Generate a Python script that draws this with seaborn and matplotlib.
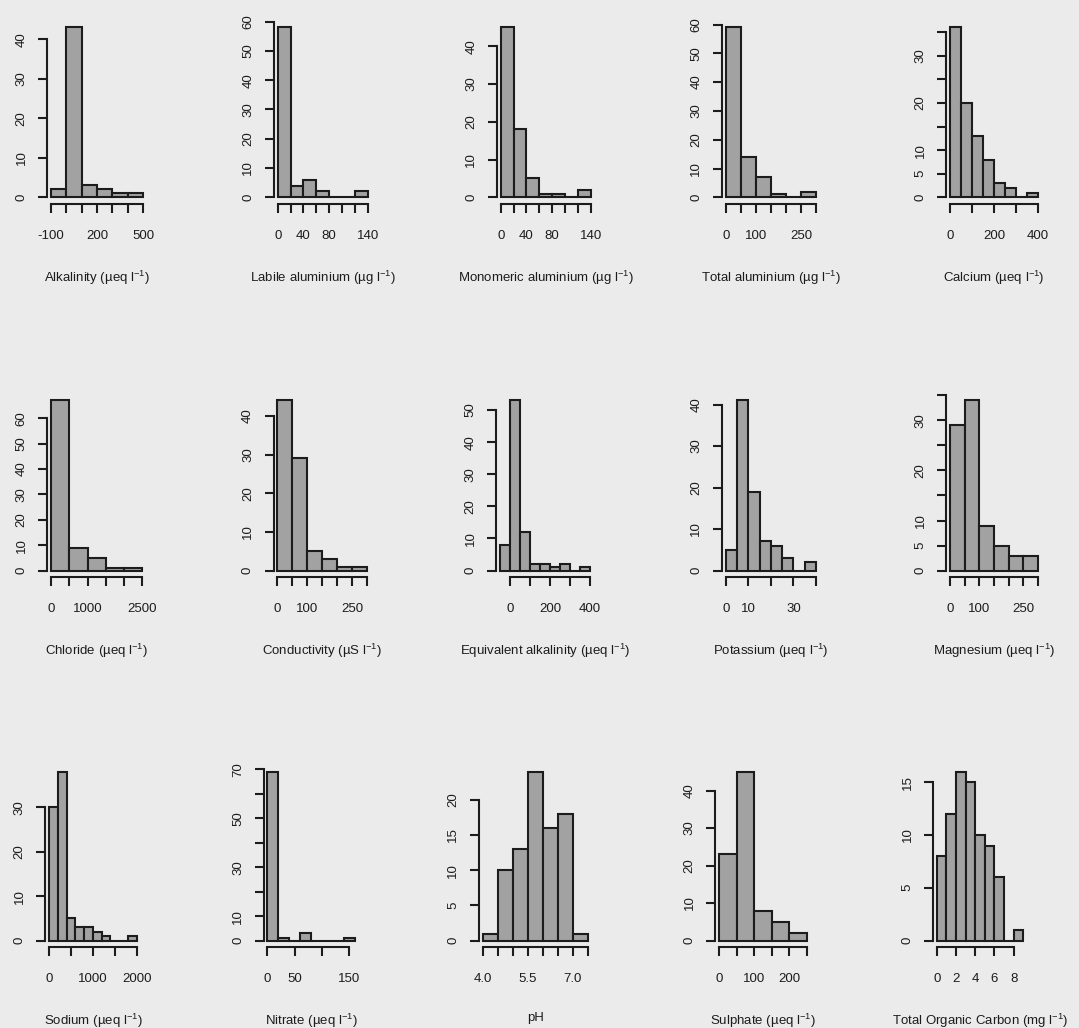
import matplotlib
matplotlib.use("Agg")
import matplotlib.pyplot as plt
import seaborn as sns

# ---- water chemistry histograms: bin edges and site counts per determinand ----
alkalinity_edges = [-100, 0, 100, 200, 300, 400, 500]
alkalinity_counts = [2, 43, 3, 2, 1, 1]

labile_al_edges = [0, 20, 40, 60, 80, 100, 120, 140]
labile_al_counts = [58, 4, 6, 2, 0, 0, 2]

monomeric_al_edges = [0, 20, 40, 60, 80, 100, 120, 140]
monomeric_al_counts = [45, 18, 5, 1, 1, 0, 2]

total_al_edges = [0, 50, 100, 150, 200, 250, 300]
total_al_counts = [59, 14, 7, 1, 0, 2]

calcium_edges = [0, 50, 100, 150, 200, 250, 300, 350, 400]
calcium_counts = [36, 20, 13, 8, 3, 2, 0, 1]

chloride_edges = [0, 500, 1000, 1500, 2000, 2500]
chloride_counts = [67, 9, 5, 1, 1]

conductivity_edges = [0, 50, 100, 150, 200, 250, 300]
conductivity_counts = [44, 29, 5, 3, 1, 1]

equiv_alk_edges = [-50, 0, 50, 100, 150, 200, 250, 300, 350, 400]
equiv_alk_counts = [8, 53, 12, 2, 2, 1, 2, 0, 1]

potassium_edges = [0, 5, 10, 15, 20, 25, 30, 35, 40]
potassium_counts = [5, 41, 19, 7, 6, 3, 0, 2]

magnesium_edges = [0, 50, 100, 150, 200, 250, 300]
magnesium_counts = [29, 34, 9, 5, 3, 3]

sodium_edges = [0, 200, 400, 600, 800, 1000, 1200, 1400, 1600, 1800, 2000]
sodium_counts = [30, 38, 5, 3, 3, 2, 1, 0, 0, 1]

nitrate_edges = [0, 20, 40, 60, 80, 100, 120, 140, 160]
nitrate_counts = [69, 1, 0, 3, 0, 0, 0, 1]

ph_edges = [4.0, 4.5, 5.0, 5.5, 6.0, 6.5, 7.0, 7.5]
ph_counts = [1, 10, 13, 24, 16, 18, 1]

sulphate_edges = [0, 50, 100, 150, 200, 250]
sulphate_counts = [23, 45, 8, 5, 2]

toc_edges = [0, 1, 2, 3, 4, 5, 6, 7, 8, 9]
toc_counts = [8, 12, 16, 15, 10, 9, 6, 0, 1]

# axis labels
titles = [
    "Alkalinity (µeq l$^{-1}$)", "Labile aluminium (µg l$^{-1}$)",
    "Monomeric aluminium (µg l$^{-1}$)", "Total aluminium (µg l$^{-1}$)",
    "Calcium (µeq l$^{-1}$)", "Chloride (µeq l$^{-1}$)",
    "Conductivity (µS l$^{-1}$)", "Equivalent alkalinity (µeq l$^{-1}$)",
    "Potassium (µeq l$^{-1}$)", "Magnesium (µeq l$^{-1}$)",
    "Sodium (µeq l$^{-1}$)", "Nitrate (µeq l$^{-1}$)", "pH",
    "Sulphate (µeq l$^{-1}$)", "Total Organic Carbon (mg l$^{-1}$)",
]

# x tick positions and labels (blank where labels would crowd)
x_ticks = [
    [-100, 0, 100, 200, 300, 400, 500],
    [0, 20, 40, 60, 80, 100, 120, 140],
    [0, 20, 40, 60, 80, 100, 120, 140],
    [0, 50, 100, 150, 200, 250, 300],
    [0, 100, 200, 300, 400],
    [0, 500, 1000, 1500, 2000, 2500],
    [0, 50, 100, 150, 200, 250, 300],
    [0, 100, 200, 300, 400],
    [0, 10, 20, 30, 40],
    [0, 50, 100, 150, 200, 250, 300],
    [0, 500, 1000, 1500, 2000],
    [0, 50, 100, 150],
    [4.0, 4.5, 5.0, 5.5, 6.0, 6.5, 7.0, 7.5],
    [0, 50, 100, 150, 200, 250],
    [0, 2, 4, 6, 8],
]
x_tick_labels = [
    ["-100", "", "", "200", "", "", "500"],
    ["0", "", "40", "", "80", "", "", "140"],
    ["0", "", "40", "", "80", "", "", "140"],
    ["0", "", "100", "", "", "250", ""],
    ["0", "", "200", "", "400"],
    ["0", "", "1000", "", "", "2500"],
    ["0", "", "100", "", "", "250", ""],
    ["0", "", "200", "", "400"],
    ["0", "10", "", "30", ""],
    ["0", "", "100", "", "", "250", ""],
    ["0", "", "1000", "", "2000"],
    ["0", "50", "", "150"],
    ["4.0", "", "", "5.5", "", "", "7.0", ""],
    ["0", "", "100", "", "200", ""],
    ["0", "2", "4", "6", "8"],
]

# y tick positions and labels
y_ticks = [
    [0, 10, 20, 30, 40],
    [0, 10, 20, 30, 40, 50, 60],
    [0, 10, 20, 30, 40],
    [0, 10, 20, 30, 40, 50, 60],
    [0, 5, 10, 15, 20, 25, 30, 35],
    [0, 10, 20, 30, 40, 50, 60],
    [0, 10, 20, 30, 40],
    [0, 10, 20, 30, 40, 50],
    [0, 10, 20, 30, 40],
    [0, 5, 10, 15, 20, 25, 30, 35],
    [0, 10, 20, 30],
    [0, 10, 20, 30, 40, 50, 60, 70],
    [0, 5, 10, 15, 20],
    [0, 10, 20, 30, 40],
    [0, 5, 10, 15],
]
y_tick_labels = [
    ["0", "10", "20", "30", "40"],
    ["0", "10", "20", "30", "40", "50", "60"],
    ["0", "10", "20", "30", "40"],
    ["0", "10", "20", "30", "40", "50", "60"],
    ["0", "5", "10", "", "20", "", "30", ""],
    ["0", "10", "20", "30", "40", "50", "60"],
    ["0", "10", "20", "30", "40"],
    ["0", "10", "20", "30", "40", "50"],
    ["0", "10", "20", "30", "40"],
    ["0", "5", "10", "", "20", "", "30", ""],
    ["0", "10", "20", "30"],
    ["0", "10", "", "30", "", "50", "", "70"],
    ["0", "5", "10", "15", "20"],
    ["0", "10", "20", "30", "40"],
    ["0", "5", "10", "15"],
]

edges_all = [alkalinity_edges, labile_al_edges, monomeric_al_edges, total_al_edges,
             calcium_edges, chloride_edges, conductivity_edges, equiv_alk_edges,
             potassium_edges, magnesium_edges, sodium_edges, nitrate_edges,
             ph_edges, sulphate_edges, toc_edges]
counts_all = [alkalinity_counts, labile_al_counts, monomeric_al_counts, total_al_counts,
              calcium_counts, chloride_counts, conductivity_counts, equiv_alk_counts,
              potassium_counts, magnesium_counts, sodium_counts, nitrate_counts,
              ph_counts, sulphate_counts, toc_counts]

# ---- page layout (pixels): horizontal extent of the bin range in each panel,
# and top / height of each row's plotting region ----
W, H = 1079, 1028
bin_span_px = [
    (51, 143), (277.7, 367.7), (500.7, 590.7), (725.7, 816.3), (950, 1038),
    (51, 142.3), (277.3, 367.3), (500, 590), (725.7, 816), (950, 1038),
    (49, 136.7), (267.3, 354.8), (483.3, 587.7), (719, 806.7), (936.7, 1023.3),
]
row_top_px = [20.6, 393.7, 765.0]
row_height_px = [183.5, 183.6, 182.3]

BG = "#ebebeb"
FILL = "#a2a2a2"
INK = "#1c1c1c"
LW = 1.5
FS = 9.5

sns.set_style("ticks")
plt.rcParams["font.family"] = ["Liberation Sans", "DejaVu Sans"]
plt.rcParams["mathtext.fontset"] = "custom"
plt.rcParams["mathtext.rm"] = "Liberation Sans"
plt.rcParams["mathtext.it"] = "Liberation Sans:italic"
plt.rcParams["mathtext.bf"] = "Liberation Sans:bold"
plt.rcParams["mathtext.default"] = "regular"
plt.rcParams["text.color"] = INK

fig = plt.figure(figsize=(W / 100, H / 100), dpi=100, facecolor=BG)

for i in range(15):
    edges = edges_all[i]
    counts = counts_all[i]
    row = i // 5
    lo_px, hi_px = bin_span_px[i]
    span_px = hi_px - lo_px
    left_px = lo_px - 0.04 * span_px
    width_px = 1.08 * span_px
    top_px = row_top_px[row]
    height_px = row_height_px[row]
    ax = fig.add_axes([left_px / W, 1 - (top_px + height_px) / H,
                       width_px / W, height_px / H])
    ax.patch.set_visible(False)

    centers = [(a + b) / 2 for a, b in zip(edges[:-1], edges[1:])]
    sns.histplot(x=centers, weights=counts, bins=edges, ax=ax,
                 color=FILL, edgecolor=INK, linewidth=LW, alpha=1)

    xr = edges[-1] - edges[0]
    ymax = max(counts)
    ax.set_xlim(edges[0] - 0.04 * xr, edges[-1] + 0.04 * xr)
    ax.set_ylim(-0.04 * ymax, 1.04 * ymax)

    for side in ("top", "right"):
        ax.spines[side].set_visible(False)
    for side in ("left", "bottom"):
        ax.spines[side].set_linewidth(LW)
        ax.spines[side].set_color(INK)
    ax.spines["left"].set_bounds(y_ticks[i][0], y_ticks[i][-1])
    ax.spines["bottom"].set_bounds(x_ticks[i][0], x_ticks[i][-1])

    ax.set_xticks(x_ticks[i])
    ax.set_xticklabels(x_tick_labels[i], fontsize=FS, color=INK)
    ax.set_yticks(y_ticks[i])
    ax.set_yticklabels(y_tick_labels[i], fontsize=FS, color=INK,
                       rotation=90, va="center")
    ax.tick_params(axis="x", bottom=True, direction="out", length=6.2,
                   width=LW, color=INK, pad=12.5)
    ax.tick_params(axis="y", left=True, direction="out", length=6.2,
                   width=LW, color=INK, pad=8)

    ax.set_xlabel(titles[i], fontsize=FS, color=INK, labelpad=19)
    ax.set_ylabel("")

fig.savefig("out.png", dpi=100, facecolor=BG)
